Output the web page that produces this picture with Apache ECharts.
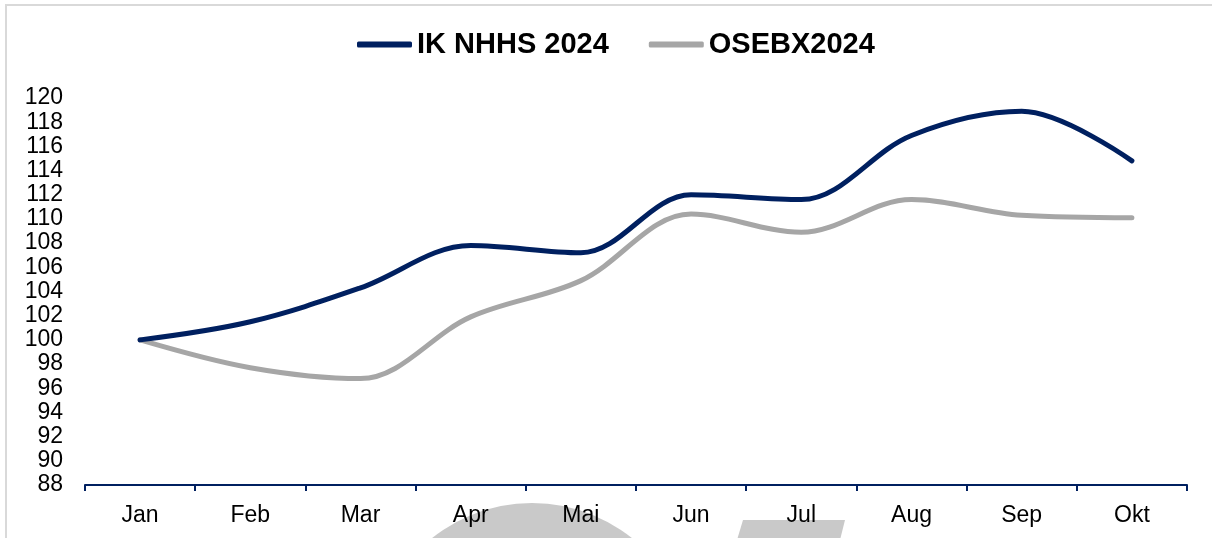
<!DOCTYPE html>
<html>
<head>
<meta charset="utf-8">
<script src="https://cdn.jsdelivr.net/npm/echarts@6/dist/echarts.min.js"></script>
<style>
html,body{margin:0;padding:0;background:#fff;}
#chart{width:1212px;height:538px;}
</style>
</head>
<body>
<div id="chart"></div>
<script>
var categories = ['Jan','Feb','Mar','Apr','Mai','Jun','Jul','Aug','Sep','Okt'];
var ikNhhs = [100, 101.5, 104.3, 107.8, 107.2, 112.0, 111.6, 116.9, 118.9, 114.8];
var osebx = [100, 97.7, 96.8, 101.9, 104.9, 110.4, 108.9, 111.6, 110.3, 110.1];
var seriesNames = ['IK NHHS 2024', 'OSEBX2024'];
var yMin = 88, yMax = 120, yStep = 2;

var chart = echarts.init(document.getElementById('chart'));
var font = 'Liberation Sans, Arial, sans-serif';
chart.setOption({
  animation: false,
  backgroundColor: '#ffffff',
  graphic: [
    { type: 'rect', shape: { x: 6, y: 5, width: 1230, height: 560 }, style: { fill: 'none', stroke: '#d9d9d9', lineWidth: 2 }, z: -10 },
    { type: 'circle', shape: { cx: 532, cy: 663, r: 160 }, style: { fill: '#c9c9c9' }, z: -5 },
    { type: 'polygon', shape: { points: [[743,520],[845,520],[840,540],[737,540]] }, style: { fill: '#c9c9c9' }, z: -5 }
  ],
  legend: {
    top: 25,
    left: 352,
    icon: 'roundRect',
    itemWidth: 55,
    itemHeight: 6,
    itemGap: 40,
    textStyle: { fontFamily: font, fontSize: 29, fontWeight: 'bold', color: '#000' },
    data: seriesNames
  },
  grid: { left: 85, right: 25, top: 98, bottom: 53, containLabel: false },
  xAxis: {
    type: 'category',
    data: categories,
    boundaryGap: true,
    axisLine: { lineStyle: { color: '#002060', width: 2 } },
    axisTick: { show: true, length: 6, lineStyle: { color: '#002060', width: 2 } },
    axisLabel: { fontFamily: font, fontSize: 23, color: '#000', margin: 19 },
    splitLine: { show: false }
  },
  yAxis: {
    type: 'value',
    min: yMin, max: yMax, interval: yStep,
    axisLine: { show: false },
    axisTick: { show: false },
    splitLine: { show: false },
    axisLabel: { fontFamily: font, fontSize: 23, color: '#000', margin: 22, padding: [3, 0, 0, 0] }
  },
  series: [
    {
      name: seriesNames[0], type: 'line', data: ikNhhs, smooth: 0.35, symbol: 'none',
      lineStyle: { color: '#002060', width: 5, cap: 'round' }, itemStyle: { color: '#002060' }, z: 3
    },
    {
      name: seriesNames[1], type: 'line', data: osebx, smooth: 0.35, symbol: 'none',
      lineStyle: { color: '#a6a6a6', width: 5, cap: 'round' }, itemStyle: { color: '#a6a6a6' }, z: 2
    }
  ]
});
</script>
</body>
</html>
